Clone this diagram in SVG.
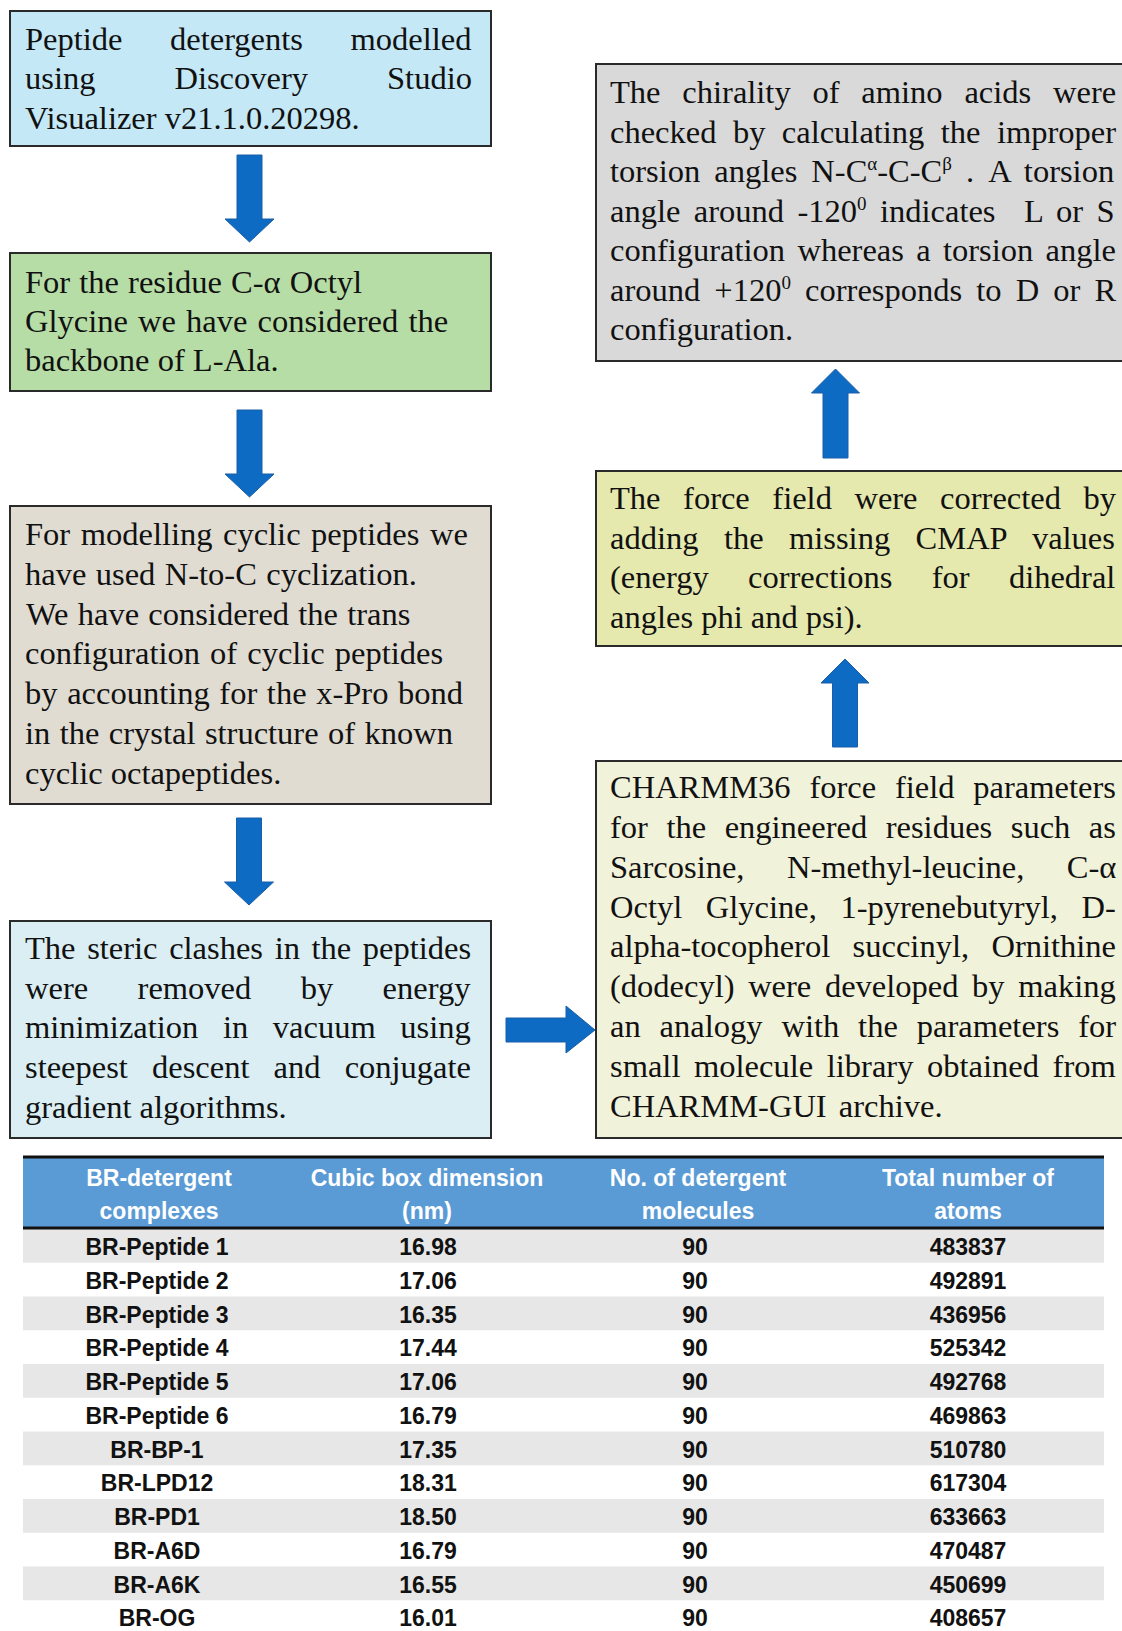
<svg xmlns="http://www.w3.org/2000/svg" width="1122" height="1631" viewBox="0 0 1122 1631">
<style>
.box{stroke:#2a2a2a;stroke-width:2}
.t{font-family:"Liberation Serif","Times New Roman",serif;font-size:32.5px;fill:#111}
.arr{fill:#0D6BC3;stroke:#1B5EA8;stroke-width:1}
.th{font-family:"Liberation Sans",Arial,sans-serif;font-weight:bold;font-size:23px;fill:#fff;text-anchor:middle}
.td{font-family:"Liberation Sans",Arial,sans-serif;font-weight:bold;font-size:23px;fill:#111;text-anchor:middle}
.sh{fill:#E7E7E7}
</style>
<rect width="1122" height="1631" fill="#fff"/>

<g id="connectors">
<path class="arr" d="M237 155 H262 V219 H274 L249.5 242 L225 219 H237 Z"/>
<path class="arr" d="M237 410 H262 V474 H274 L249.5 497 L225 474 H237 Z"/>
<path class="arr" d="M236.5 818 H261.5 V882 H273.5 L249 905 L224.5 882 H236.5 Z"/>
<path class="arr" d="M506 1018 H566 V1006 L595 1030 L566 1053 V1042 H506 Z"/>
<path class="arr" d="M832.5 747 V683 H821 L845 659 L869 683 H857.5 V747 Z"/>
<path class="arr" d="M823 458 V393 H811.5 L835.5 369 L859.5 393 H848 V458 Z"/>
</g>

<g id="node1">
<rect class="box" x="10" y="11" width="481" height="135" fill="#C5E8F7"/>
<text class="t" x="25" y="50" word-spacing="39.4">Peptide detergents modelled</text>
<text class="t" x="25" y="89" word-spacing="70.9">using Discovery Studio</text>
<text class="t" x="25" y="129">Visualizer v21.1.0.20298.</text>
</g>

<g id="node2">
<rect class="box" x="10" y="253" width="481" height="138" fill="#B7DDA6"/>
<text class="t" x="25" y="293" word-spacing="1">For the residue C-α Octyl</text>
<text class="t" x="25" y="332" word-spacing="2">Glycine we have considered the</text>
<text class="t" x="25" y="371">backbone of L-Ala.</text>
</g>

<g id="node3">
<rect class="box" x="10" y="506" width="481" height="298" fill="#E0DCD2"/>
<text class="t" x="25" y="545" word-spacing="2.4">For modelling cyclic peptides we</text>
<text class="t" x="25" y="585" word-spacing="1.3">have used N-to-C cyclization.</text>
<text class="t" x="26" y="625" word-spacing="1.1">We have considered the trans</text>
<text class="t" x="25" y="664" word-spacing="1.9">configuration of cyclic peptides</text>
<text class="t" x="25" y="704" word-spacing="1.5">by accounting for the x-Pro bond</text>
<text class="t" x="25" y="744" word-spacing="1.3">in the crystal structure of known</text>
<text class="t" x="25" y="784">cyclic octapeptides.</text>
</g>

<g id="node4">
<rect class="box" x="10" y="921" width="481" height="217" fill="#DAEEF3"/>
<text class="t" x="25" y="959" word-spacing="3.5">The steric clashes in the peptides</text>
<text class="t" x="25" y="999" word-spacing="41.3">were removed by energy</text>
<text class="t" x="25" y="1038" word-spacing="16.5">minimization in vacuum using</text>
<text class="t" x="25" y="1078" word-spacing="16">steepest descent and conjugate</text>
<text class="t" x="25" y="1118">gradient algorithms.</text>
</g>

<g id="node5">
<rect class="box" x="596" y="761" width="530" height="377" fill="#F1F2DA"/>
<text class="t" x="610" y="798" word-spacing="10.7">CHARMM36 force field parameters</text>
<text class="t" x="610" y="838" word-spacing="10.4">for the engineered residues such as</text>
<text class="t" x="610" y="878" word-spacing="34.4">Sarcosine, N-methyl-leucine, C-α</text>
<text class="t" x="610" y="918" word-spacing="15.5">Octyl Glycine, 1-pyrenebutyryl, D-</text>
<text class="t" x="610" y="957" word-spacing="14.3">alpha-tocopherol succinyl, Ornithine</text>
<text class="t" x="610" y="997" word-spacing="5.5">(dodecyl) were developed by making</text>
<text class="t" x="610" y="1037" word-spacing="10.8">an analogy with the parameters for</text>
<text class="t" x="610" y="1077" word-spacing="5.5">small molecule library obtained from</text>
<text class="t" x="610" y="1117" word-spacing="4">CHARMM-GUI archive.</text>
</g>

<g id="node6">
<rect class="box" x="596" y="471" width="530" height="175" fill="#E5E9AE"/>
<text class="t" x="610" y="509" word-spacing="14.4">The force field were corrected by</text>
<text class="t" x="610" y="549" word-spacing="17.3">adding the missing CMAP values</text>
<text class="t" x="610" y="588" word-spacing="31.2">(energy corrections for dihedral</text>
<text class="t" x="610" y="628">angles phi and psi).</text>
</g>

<g id="node7">
<rect class="box" x="596" y="64" width="530" height="297" fill="#D9D9D9"/>
<text class="t" x="610" y="103" word-spacing="13.7">The chirality of amino acids were</text>
<text class="t" x="610" y="142.5" word-spacing="8.3">checked by calculating the improper</text>
<text class="t" x="610" y="182" word-spacing="5.9">torsion angles N-C<tspan font-size="19" dy="-12">α</tspan><tspan dy="12">-C-C</tspan><tspan font-size="19" dy="-12">β</tspan><tspan dy="12"> . A torsion</tspan></text>
<text class="t" x="610" y="221.5" word-spacing="5.3">angle around -120<tspan font-size="19" dy="-12">0</tspan><tspan dy="12"> indicates </tspan><tspan dx="15">L or S</tspan></text>
<text class="t" x="610" y="261" word-spacing="4.2">configuration whereas a torsion angle</text>
<text class="t" x="610" y="300.5" word-spacing="6">around +120<tspan font-size="19" dy="-12">0</tspan><tspan dy="12"> corresponds to D or R</tspan></text>
<text class="t" x="610" y="340">configuration.</text>
</g>

<g id="table">
<rect x="23" y="1157" width="1081" height="71" fill="#5B9BD5"/>
<rect class="sh" x="23" y="1229" width="1081" height="33.75"/>
<rect class="sh" x="23" y="1296.5" width="1081" height="33.75"/>
<rect class="sh" x="23" y="1364" width="1081" height="33.75"/>
<rect class="sh" x="23" y="1431.5" width="1081" height="33.75"/>
<rect class="sh" x="23" y="1499" width="1081" height="33.75"/>
<rect class="sh" x="23" y="1566.5" width="1081" height="33.75"/>
<line x1="23" y1="1157" x2="1104" y2="1157" stroke="#111" stroke-width="3"/>
<line x1="23" y1="1228" x2="1104" y2="1228" stroke="#111" stroke-width="3"/>
<text class="th" x="159" y="1186">BR-detergent</text>
<text class="th" x="159" y="1219">complexes</text>
<text class="th" x="427" y="1186">Cubic box dimension</text>
<text class="th" x="427" y="1219">(nm)</text>
<text class="th" x="698" y="1186">No. of detergent</text>
<text class="th" x="698" y="1219">molecules</text>
<text class="th" x="968" y="1186">Total number of</text>
<text class="th" x="968" y="1219">atoms</text>
<g>
<text class="td" x="157" y="1255">BR-Peptide 1</text><text class="td" x="428" y="1255">16.98</text><text class="td" x="695" y="1255">90</text><text class="td" x="968" y="1255">483837</text>
<text class="td" x="157" y="1288.75">BR-Peptide 2</text><text class="td" x="428" y="1288.75">17.06</text><text class="td" x="695" y="1288.75">90</text><text class="td" x="968" y="1288.75">492891</text>
<text class="td" x="157" y="1322.5">BR-Peptide 3</text><text class="td" x="428" y="1322.5">16.35</text><text class="td" x="695" y="1322.5">90</text><text class="td" x="968" y="1322.5">436956</text>
<text class="td" x="157" y="1356.25">BR-Peptide 4</text><text class="td" x="428" y="1356.25">17.44</text><text class="td" x="695" y="1356.25">90</text><text class="td" x="968" y="1356.25">525342</text>
<text class="td" x="157" y="1390">BR-Peptide 5</text><text class="td" x="428" y="1390">17.06</text><text class="td" x="695" y="1390">90</text><text class="td" x="968" y="1390">492768</text>
<text class="td" x="157" y="1423.75">BR-Peptide 6</text><text class="td" x="428" y="1423.75">16.79</text><text class="td" x="695" y="1423.75">90</text><text class="td" x="968" y="1423.75">469863</text>
<text class="td" x="157" y="1457.5">BR-BP-1</text><text class="td" x="428" y="1457.5">17.35</text><text class="td" x="695" y="1457.5">90</text><text class="td" x="968" y="1457.5">510780</text>
<text class="td" x="157" y="1491.25">BR-LPD12</text><text class="td" x="428" y="1491.25">18.31</text><text class="td" x="695" y="1491.25">90</text><text class="td" x="968" y="1491.25">617304</text>
<text class="td" x="157" y="1525">BR-PD1</text><text class="td" x="428" y="1525">18.50</text><text class="td" x="695" y="1525">90</text><text class="td" x="968" y="1525">633663</text>
<text class="td" x="157" y="1558.75">BR-A6D</text><text class="td" x="428" y="1558.75">16.79</text><text class="td" x="695" y="1558.75">90</text><text class="td" x="968" y="1558.75">470487</text>
<text class="td" x="157" y="1592.5">BR-A6K</text><text class="td" x="428" y="1592.5">16.55</text><text class="td" x="695" y="1592.5">90</text><text class="td" x="968" y="1592.5">450699</text>
<text class="td" x="157" y="1626.25">BR-OG</text><text class="td" x="428" y="1626.25">16.01</text><text class="td" x="695" y="1626.25">90</text><text class="td" x="968" y="1626.25">408657</text>
</g>
</g>
</svg>
